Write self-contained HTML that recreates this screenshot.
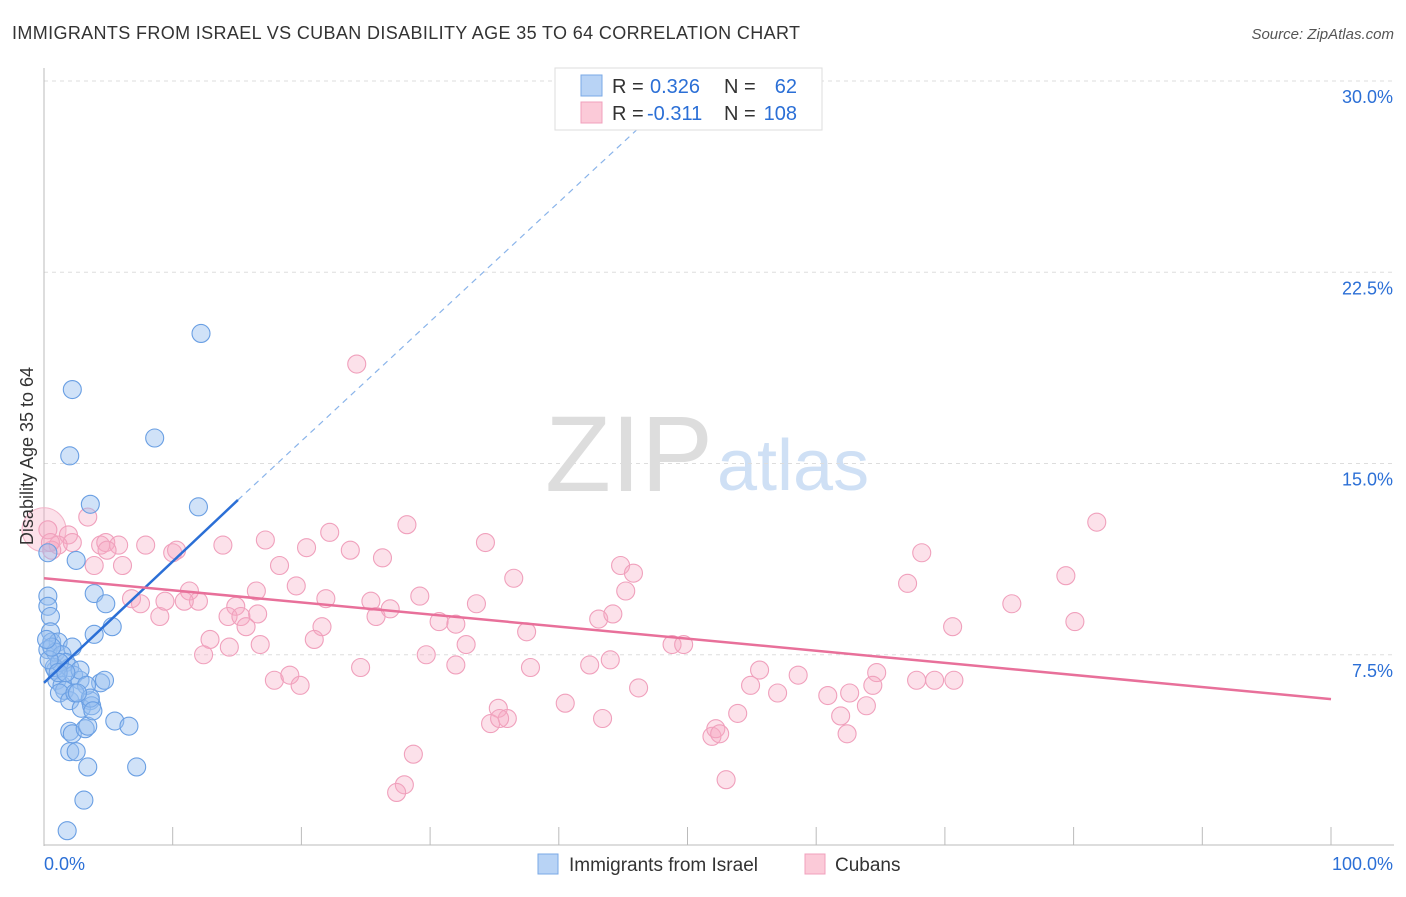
<!DOCTYPE html>
<html><head><meta charset="utf-8"><style>
body{margin:0;background:#fff;font-family:"Liberation Sans",sans-serif}
svg text{font-family:"Liberation Sans",sans-serif}
</style></head><body>
<svg id="c" width="1406" height="892">
<text x="12" y="39" font-size="18" fill="#333" textLength="788">IMMIGRANTS FROM ISRAEL VS CUBAN DISABILITY AGE 35 TO 64 CORRELATION CHART</text>
<text x="1394" y="39" font-size="15" fill="#555" font-style="italic" text-anchor="end">Source: ZipAtlas.com</text>
<text x="713" y="491" font-size="108" font-family="Liberation Serif,serif" fill="#ddd" text-anchor="end">ZIP</text>
<text x="717" y="490" font-size="72" fill="#cfe0f5">atlas</text>
<g id="grid"></g><g id="pts"></g><g id="lines"></g>
<text transform="translate(33,456) rotate(-90)" font-size="18" fill="#333" text-anchor="middle">Disability Age 35 to 64</text>
<g>
<rect x="555" y="68" width="267" height="62" fill="#fff" stroke="#ddd"/>
<rect x="581" y="75" width="21" height="21" fill="#b8d3f5" stroke="#7aa8e6"/>
<rect x="581" y="102" width="21" height="21" fill="#fbcad8" stroke="#f0a0bc"/>
<text x="612" y="93" font-size="20" fill="#333">R =</text>
<text x="650" y="93" font-size="20" fill="#2b6fd6">0.326</text>
<text x="724" y="93" font-size="20" fill="#333">N =</text>
<text x="797" y="93" font-size="20" fill="#2b6fd6" text-anchor="end">62</text>
<text x="612" y="120" font-size="20" fill="#333">R =</text>
<text x="647" y="120" font-size="20" fill="#2b6fd6">-0.311</text>
<text x="724" y="120" font-size="20" fill="#333">N =</text>
<text x="797" y="120" font-size="20" fill="#2b6fd6" text-anchor="end">108</text>
</g>
<g>
<rect x="538" y="854" width="20" height="20" fill="#b8d3f5" stroke="#7aa8e6"/>
<text x="569" y="871" font-size="19" fill="#333">Immigrants from Israel</text>
<rect x="805" y="854" width="20" height="20" fill="#fbcad8" stroke="#f0a0bc"/>
<text x="835" y="871" font-size="19" fill="#333">Cubans</text>
</g>
</svg>
<script>
const xTicks=[0,10,20,30,40,50,60,70,80,90,100];
const yTicks=[7.5,15,22.5,30];
const yTickLabels=["7.5%","15.0%","22.5%","30.0%"];
const israelX=[12.2,2.2,8.6,2.0,3.6,12.0,0.3,2.5,3.9,4.8,5.3,3.9,0.3,0.3,0.5,0.5,0.6,1.1,2.2,0.3,0.9,1.4,1.7,0.9,1.0,1.4,2.0,2.3,2.8,1.6,2.8,4.4,4.7,1.2,2.0,3.6,2.9,3.7,2.0,2.2,3.2,3.4,5.5,6.6,2.0,2.5,3.4,7.2,3.1,1.8,0.8,1.2,0.4,0.6,3.3,2.4,3.6,3.8,1.1,1.7,2.6,0.2];
const israelY=[20.1,17.9,16.0,15.3,13.4,13.3,11.5,11.2,9.9,9.5,8.6,8.3,9.8,9.4,9.0,8.4,8.0,8.0,7.8,7.7,7.6,7.5,7.2,6.9,6.5,6.3,7.0,6.7,6.5,6.1,6.9,6.4,6.5,6.0,5.7,5.7,5.4,5.5,4.5,4.4,4.6,4.7,4.9,4.7,3.7,3.7,3.1,3.1,1.8,0.6,7.0,7.2,7.3,7.8,6.3,6.0,5.8,5.3,6.8,6.8,6.0,8.1];
const cubanX=[24.3,0.3,3.4,1.9,2.2,1.1,0.6,4.4,4.8,5.8,7.9,10.0,10.3,4.9,3.9,6.1,0.5,17.2,22.2,28.2,34.3,81.8,20.4,23.8,26.3,18.3,13.9,36.5,44.8,45.8,45.2,68.2,67.1,79.4,75.2,80.1,70.6,6.8,7.5,9.0,11.3,12.0,10.9,9.4,14.9,14.3,15.3,15.7,16.5,19.6,21.9,25.4,25.8,26.9,29.2,33.6,30.7,32.0,21.6,12.9,14.4,12.4,16.8,21.0,16.6,29.7,32.0,32.8,37.5,43.1,44.2,37.8,42.4,44.0,24.6,17.9,19.1,19.9,35.3,34.7,36.0,40.5,43.4,46.2,48.8,49.7,55.6,54.9,57.0,58.6,60.9,62.6,61.9,63.9,62.4,51.9,52.2,53.9,64.7,64.4,67.8,69.2,70.7,28.7,28.0,27.4,53.0,35.4,52.5];
const cubanY=[18.9,12.4,12.9,12.2,11.9,11.8,11.6,11.8,11.9,11.8,11.8,11.5,11.6,11.6,11.0,11.0,11.9,12.0,12.3,12.6,11.9,12.7,11.7,11.6,11.3,11.0,11.8,10.5,11.0,10.7,10.0,11.5,10.3,10.6,9.5,8.8,8.6,9.7,9.5,9.0,10.0,9.6,9.6,9.6,9.4,9.0,9.0,8.6,10.0,10.2,9.7,9.6,9.0,9.3,9.8,9.5,8.8,8.7,8.6,8.1,7.8,7.5,7.9,8.1,9.1,7.5,7.1,7.9,8.4,8.9,9.1,7.0,7.1,7.3,7.0,6.5,6.7,6.3,5.4,4.8,5.0,5.6,5.0,6.2,7.9,7.9,6.9,6.3,6.0,6.7,5.9,6.0,5.1,5.5,4.4,4.3,4.6,5.2,6.8,6.3,6.5,6.5,6.5,3.6,2.4,2.1,2.6,5.0,4.4];
const israelTrend=[[0,6.4],[15.07,13.57]];
const israelTrendExt=[[15.07,13.57],[46.3,28.2]];
const cubanTrend=[[0,10.5],[100,5.76]];
const X=v=>44+v*12.87, Y=v=>846-v*25.5;
const NS="http://www.w3.org/2000/svg";
function mk(t,a,p){const e=document.createElementNS(NS,t);for(const k in a)e.setAttribute(k,a[k]);p.appendChild(e);return e;}
const g=document.getElementById('grid');
yTicks.forEach((t,i)=>{const l=mk('line',{x1:44,x2:1394,y1:Y(t),y2:Y(t),stroke:'#ddd','stroke-dasharray':'4,4'},g);


const tx=mk('text',{x:1393,y:Y(t)+22,'font-size':18,fill:'#2b6fd6','text-anchor':'end'},g);tx.textContent=yTickLabels[i];

});
const ax=mk('line',{x1:44,x2:44,y1:68,y2:846,stroke:'#bbb'},g);


const bx=mk('line',{x1:44,x2:1394,y1:845,y2:845,stroke:'#bbb'},g);


xTicks.forEach(t=>{const l=mk('line',{x1:X(t),x2:X(t),y1:827,y2:845,stroke:'#bbb'},g);

});
[["0.0%",44,'start'],["100.0%",1393,'end']].forEach(a=>{const t=mk('text',{x:a[1],y:870,'font-size':18,fill:'#2b6fd6','text-anchor':a[2]},g);t.textContent=a[0];

});
const p=document.getElementById('pts');
const big=mk('circle',{cx:X(0),cy:Y(12.4),r:22,fill:'rgba(245,170,195,0.35)',stroke:'#f3b3c8'},p);


cubanX.forEach((x,i)=>{const c=mk('circle',{cx:X(x),cy:Y(cubanY[i]),r:9,fill:'rgba(245,170,195,0.35)',stroke:'#f0a0bc','stroke-width':1.1},p);

});
israelX.forEach((x,i)=>{const c=mk('circle',{cx:X(x),cy:Y(israelY[i]),r:9,fill:'rgba(150,190,240,0.45)',stroke:'#6a9fe3','stroke-width':1.1},p);

});
const L=document.getElementById('lines');
const l1=mk('line',{x1:X(israelTrend[0][0]),y1:Y(israelTrend[0][1]),x2:X(israelTrend[1][0]),y2:Y(israelTrend[1][1]),stroke:'#2b6fd6','stroke-width':2.5},L);


const l2=mk('line',{x1:X(israelTrendExt[0][0]),y1:Y(israelTrendExt[0][1]),x2:X(israelTrendExt[1][0]),y2:Y(israelTrendExt[1][1]),stroke:'#8ab4ea','stroke-width':1.2,'stroke-dasharray':'6,5'},L);


const l3=mk('line',{x1:X(cubanTrend[0][0]),y1:Y(cubanTrend[0][1]),x2:X(cubanTrend[1][0]),y2:Y(cubanTrend[1][1]),stroke:'#e8709a','stroke-width':2.5},L);


</script>
</body></html>
